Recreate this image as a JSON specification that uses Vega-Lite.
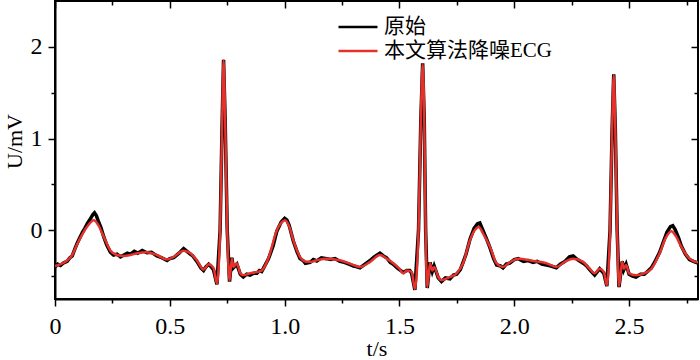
{
  "$schema": "https://vega.github.io/schema/vega-lite/v6.json",
  "width": 643,
  "height": 298,
  "autosize": {"type": "none"},
  "padding": {"left": 55, "top": 1, "right": 2, "bottom": 61},
  "background": "white",
  "config": {
    "font": "Liberation Serif",
    "view": {"stroke": "#000", "strokeWidth": 2},
    "axis": {
      "grid": false,
      "domainColor": "#000",
      "domainWidth": 2,
      "tickColor": "#000",
      "tickWidth": 1.5,
      "labelColor": "#000",
      "labelFont": "Liberation Serif",
      "labelFontSize": 24,
      "titleFont": "Liberation Serif",
      "titleFontSize": 22,
      "titleFontWeight": "normal",
      "titleColor": "#000"
    },
    "legend": {
      "labelFont": "Liberation Serif, 'Noto Sans CJK SC'",
      "labelFontSize": 21,
      "labelColor": "#000",
      "labelLimit": 0,
      "symbolType": "M-2,0H2",
      "symbolSize": 380,
      "symbolStrokeWidth": 2.5,
      "labelOffset": 15,
      "rowPadding": 3,
      "padding": 0
    }
  },
  "datasets": {
    "orig": [
      {"t":0.000,"v":-0.40},{"t":0.012,"v":-0.37},{"t":0.024,"v":-0.385},{"t":0.038,"v":-0.355},{"t":0.053,"v":-0.34},{"t":0.065,"v":-0.30},{"t":0.075,"v":-0.28},{"t":0.087,"v":-0.20},{"t":0.097,"v":-0.14},{"t":0.11,"v":-0.07},{"t":0.12,"v":-0.02},{"t":0.13,"v":0.02},{"t":0.14,"v":0.07},{"t":0.155,"v":0.13},{"t":0.165,"v":0.17},{"t":0.172,"v":0.19},{"t":0.18,"v":0.16},{"t":0.19,"v":0.09},{"t":0.20,"v":0.03},{"t":0.212,"v":-0.07},{"t":0.225,"v":-0.16},{"t":0.241,"v":-0.24},{"t":0.255,"v":-0.27},{"t":0.27,"v":-0.26},{"t":0.285,"v":-0.29},{"t":0.30,"v":-0.27},{"t":0.315,"v":-0.25},{"t":0.328,"v":-0.26},{"t":0.345,"v":-0.23},{"t":0.36,"v":-0.25},{"t":0.38,"v":-0.22},{"t":0.40,"v":-0.245},{"t":0.42,"v":-0.24},{"t":0.444,"v":-0.28},{"t":0.465,"v":-0.30},{"t":0.488,"v":-0.33},{"t":0.50,"v":-0.31},{"t":0.517,"v":-0.30},{"t":0.54,"v":-0.25},{"t":0.56,"v":-0.20},{"t":0.575,"v":-0.23},{"t":0.589,"v":-0.26},{"t":0.60,"v":-0.28},{"t":0.618,"v":-0.34},{"t":0.635,"v":-0.41},{"t":0.647,"v":-0.44},{"t":0.657,"v":-0.40},{"t":0.669,"v":-0.37},{"t":0.68,"v":-0.40},{"t":0.69,"v":-0.43},{"t":0.705,"v":-0.59},{"t":0.719,"v":0.0},{"t":0.728,"v":1.2},{"t":0.734,"v":1.86},{"t":0.741,"v":1.2},{"t":0.750,"v":0.0},{"t":0.760,"v":-0.56},{"t":0.770,"v":-0.30},{"t":0.777,"v":-0.41},{"t":0.792,"v":-0.37},{"t":0.807,"v":-0.48},{"t":0.82,"v":-0.51},{"t":0.835,"v":-0.48},{"t":0.85,"v":-0.49},{"t":0.865,"v":-0.47},{"t":0.879,"v":-0.47},{"t":0.89,"v":-0.44},{"t":0.90,"v":-0.45},{"t":0.915,"v":-0.38},{"t":0.93,"v":-0.31},{"t":0.95,"v":-0.17},{"t":0.966,"v":-0.01},{"t":0.985,"v":0.09},{"t":1.000,"v":0.13},{"t":1.01,"v":0.11},{"t":1.02,"v":0.05},{"t":1.038,"v":-0.12},{"t":1.055,"v":-0.24},{"t":1.067,"v":-0.31},{"t":1.08,"v":-0.33},{"t":1.09,"v":-0.36},{"t":1.111,"v":-0.35},{"t":1.125,"v":-0.32},{"t":1.14,"v":-0.335},{"t":1.16,"v":-0.30},{"t":1.183,"v":-0.31},{"t":1.20,"v":-0.32},{"t":1.22,"v":-0.31},{"t":1.241,"v":-0.34},{"t":1.26,"v":-0.35},{"t":1.28,"v":-0.37},{"t":1.30,"v":-0.39},{"t":1.315,"v":-0.40},{"t":1.328,"v":-0.41},{"t":1.35,"v":-0.37},{"t":1.372,"v":-0.33},{"t":1.39,"v":-0.29},{"t":1.415,"v":-0.25},{"t":1.43,"v":-0.28},{"t":1.444,"v":-0.30},{"t":1.46,"v":-0.35},{"t":1.473,"v":-0.37},{"t":1.49,"v":-0.41},{"t":1.50,"v":-0.43},{"t":1.517,"v":-0.46},{"t":1.531,"v":-0.44},{"t":1.545,"v":-0.44},{"t":1.553,"v":-0.47},{"t":1.567,"v":-0.65},{"t":1.583,"v":0.0},{"t":1.593,"v":1.2},{"t":1.601,"v":1.82},{"t":1.608,"v":1.2},{"t":1.614,"v":0.0},{"t":1.621,"v":-0.63},{"t":1.633,"v":-0.35},{"t":1.643,"v":-0.45},{"t":1.651,"v":-0.39},{"t":1.669,"v":-0.52},{"t":1.683,"v":-0.56},{"t":1.70,"v":-0.52},{"t":1.72,"v":-0.53},{"t":1.735,"v":-0.49},{"t":1.749,"v":-0.48},{"t":1.765,"v":-0.43},{"t":1.777,"v":-0.35},{"t":1.79,"v":-0.26},{"t":1.807,"v":-0.10},{"t":1.825,"v":0.02},{"t":1.84,"v":0.07},{"t":1.85,"v":0.08},{"t":1.865,"v":-0.01},{"t":1.88,"v":-0.10},{"t":1.894,"v":-0.19},{"t":1.91,"v":-0.31},{"t":1.923,"v":-0.38},{"t":1.94,"v":-0.39},{"t":1.951,"v":-0.41},{"t":1.965,"v":-0.37},{"t":1.98,"v":-0.36},{"t":2.0,"v":-0.32},{"t":2.017,"v":-0.31},{"t":2.04,"v":-0.34},{"t":2.06,"v":-0.33},{"t":2.082,"v":-0.35},{"t":2.10,"v":-0.34},{"t":2.12,"v":-0.37},{"t":2.14,"v":-0.38},{"t":2.16,"v":-0.39},{"t":2.183,"v":-0.41},{"t":2.20,"v":-0.37},{"t":2.22,"v":-0.34},{"t":2.24,"v":-0.29},{"t":2.256,"v":-0.28},{"t":2.275,"v":-0.32},{"t":2.30,"v":-0.36},{"t":2.315,"v":-0.39},{"t":2.328,"v":-0.43},{"t":2.35,"v":-0.49},{"t":2.372,"v":-0.42},{"t":2.39,"v":-0.47},{"t":2.403,"v":-0.61},{"t":2.417,"v":0.0},{"t":2.426,"v":1.1},{"t":2.433,"v":1.70},{"t":2.440,"v":1.1},{"t":2.448,"v":0.0},{"t":2.456,"v":-0.62},{"t":2.47,"v":-0.34},{"t":2.477,"v":-0.43},{"t":2.487,"v":-0.37},{"t":2.50,"v":-0.48},{"t":2.515,"v":-0.50},{"t":2.53,"v":-0.51},{"t":2.55,"v":-0.48},{"t":2.566,"v":-0.48},{"t":2.58,"v":-0.45},{"t":2.597,"v":-0.41},{"t":2.615,"v":-0.33},{"t":2.633,"v":-0.24},{"t":2.65,"v":-0.12},{"t":2.665,"v":-0.02},{"t":2.68,"v":0.04},{"t":2.69,"v":0.05},{"t":2.70,"v":0.01},{"t":2.715,"v":-0.08},{"t":2.727,"v":-0.17},{"t":2.745,"v":-0.26},{"t":2.763,"v":-0.32},{"t":2.78,"v":-0.34},{"t":2.80,"v":-0.36}
    ],
    "denoised": [
      {"t":0.000,"v":-0.39},{"t":0.024,"v":-0.37},{"t":0.053,"v":-0.33},{"t":0.075,"v":-0.27},{"t":0.097,"v":-0.15},{"t":0.12,"v":-0.04},{"t":0.14,"v":0.04},{"t":0.169,"v":0.11},{"t":0.19,"v":0.05},{"t":0.212,"v":-0.07},{"t":0.241,"v":-0.22},{"t":0.27,"v":-0.27},{"t":0.30,"v":-0.28},{"t":0.328,"v":-0.27},{"t":0.36,"v":-0.25},{"t":0.40,"v":-0.24},{"t":0.444,"v":-0.27},{"t":0.488,"v":-0.32},{"t":0.517,"v":-0.29},{"t":0.56,"v":-0.225},{"t":0.589,"v":-0.25},{"t":0.618,"v":-0.33},{"t":0.647,"v":-0.43},{"t":0.669,"v":-0.37},{"t":0.69,"v":-0.41},{"t":0.705,"v":-0.58},{"t":0.719,"v":0.0},{"t":0.728,"v":1.2},{"t":0.734,"v":1.85},{"t":0.741,"v":1.2},{"t":0.750,"v":0.0},{"t":0.760,"v":-0.55},{"t":0.770,"v":-0.31},{"t":0.777,"v":-0.40},{"t":0.792,"v":-0.36},{"t":0.807,"v":-0.47},{"t":0.821,"v":-0.49},{"t":0.85,"v":-0.47},{"t":0.879,"v":-0.455},{"t":0.90,"v":-0.44},{"t":0.93,"v":-0.30},{"t":0.966,"v":0.0},{"t":0.985,"v":0.08},{"t":1.002,"v":0.11},{"t":1.02,"v":0.04},{"t":1.038,"v":-0.11},{"t":1.067,"v":-0.29},{"t":1.09,"v":-0.34},{"t":1.111,"v":-0.345},{"t":1.14,"v":-0.327},{"t":1.183,"v":-0.31},{"t":1.241,"v":-0.327},{"t":1.30,"v":-0.38},{"t":1.328,"v":-0.40},{"t":1.372,"v":-0.345},{"t":1.415,"v":-0.27},{"t":1.444,"v":-0.31},{"t":1.473,"v":-0.36},{"t":1.50,"v":-0.42},{"t":1.517,"v":-0.47},{"t":1.531,"v":-0.44},{"t":1.553,"v":-0.455},{"t":1.567,"v":-0.64},{"t":1.583,"v":0.0},{"t":1.593,"v":1.2},{"t":1.601,"v":1.81},{"t":1.608,"v":1.2},{"t":1.614,"v":0.0},{"t":1.621,"v":-0.62},{"t":1.633,"v":-0.36},{"t":1.643,"v":-0.44},{"t":1.651,"v":-0.40},{"t":1.669,"v":-0.51},{"t":1.683,"v":-0.545},{"t":1.72,"v":-0.51},{"t":1.749,"v":-0.47},{"t":1.777,"v":-0.36},{"t":1.807,"v":-0.11},{"t":1.825,"v":-0.01},{"t":1.845,"v":0.036},{"t":1.865,"v":-0.04},{"t":1.894,"v":-0.18},{"t":1.923,"v":-0.36},{"t":1.951,"v":-0.40},{"t":1.98,"v":-0.35},{"t":2.017,"v":-0.31},{"t":2.082,"v":-0.335},{"t":2.14,"v":-0.36},{"t":2.183,"v":-0.40},{"t":2.22,"v":-0.345},{"t":2.256,"v":-0.31},{"t":2.30,"v":-0.345},{"t":2.328,"v":-0.42},{"t":2.35,"v":-0.47},{"t":2.372,"v":-0.42},{"t":2.39,"v":-0.455},{"t":2.403,"v":-0.60},{"t":2.417,"v":0.0},{"t":2.426,"v":1.1},{"t":2.433,"v":1.69},{"t":2.440,"v":1.1},{"t":2.448,"v":0.0},{"t":2.456,"v":-0.61},{"t":2.47,"v":-0.345},{"t":2.477,"v":-0.42},{"t":2.487,"v":-0.38},{"t":2.50,"v":-0.47},{"t":2.53,"v":-0.49},{"t":2.566,"v":-0.47},{"t":2.597,"v":-0.42},{"t":2.633,"v":-0.25},{"t":2.66,"v":-0.08},{"t":2.684,"v":-0.01},{"t":2.705,"v":-0.07},{"t":2.727,"v":-0.18},{"t":2.763,"v":-0.31},{"t":2.79,"v":-0.345},{"t":2.80,"v":-0.35}
    ]
  },
  "layer": [
    {
      "data": {"name": "orig"},
      "mark": {"type": "line", "strokeWidth": 3.5, "interpolate": "linear", "clip": true},
      "encoding": {
        "x": {
          "field": "t", "type": "quantitative",
          "scale": {"domain": [0, 2.8], "nice": false, "zero": false},
          "axis": {
            "orient": "bottom",
            "values": [0, 0.25, 0.5, 0.75, 1, 1.25, 1.5, 1.75, 2, 2.25, 2.5, 2.75],
            "labelExpr": "datum.value === 0 ? '0' : (abs(datum.value * 2 - round(datum.value * 2)) < 0.001 ? format(datum.value, '.1f') : '')",
            "tickSize": {"condition": {"test": "abs(datum.value * 2 - round(datum.value * 2)) < 0.001", "value": 7}, "value": 4},
            "labelPadding": 8,
            "labelFlush": false,
            "title": "t/s",
            "titleY": 56,
            "titleBaseline": "alphabetic"
          }
        },
        "y": {
          "field": "v", "type": "quantitative",
          "scale": {"domain": [-0.75, 2.5], "nice": false, "zero": false},
          "axis": {
            "orient": "left",
            "values": [-0.5, 0, 0.5, 1, 1.5, 2],
            "labelExpr": "datum.value % 1 === 0 ? format(datum.value, 'd') : ''",
            "tickSize": {"condition": {"test": "datum.value % 1 === 0", "value": 7}, "value": 4},
            "labelPadding": 6,
            "labelFlush": false,
            "title": "U/mV",
            "titleX": -41,
            "titleY": 140,
            "titleBaseline": "middle",
            "titleAngle": -90
          }
        },
        "color": {
          "datum": "原始",
          "scale": {"domain": ["原始", "本文算法降噪ECG"], "range": ["#000000", "#e5312b"]},
          "legend": {"orient": "none", "legendX": 292, "legendY": 15, "title": null}
        }
      }
    },
    {
      "data": {"name": "denoised"},
      "mark": {"type": "line", "strokeWidth": 2.5, "interpolate": "monotone", "clip": true},
      "encoding": {
        "x": {
          "field": "t", "type": "quantitative",
          "axis": {
            "orient": "top",
            "values": [0, 0.25, 0.5, 0.75, 1, 1.25, 1.5, 1.75, 2, 2.25, 2.5, 2.75],
            "labels": false,
            "domain": false,
            "tickSize": {"condition": {"test": "abs(datum.value * 2 - round(datum.value * 2)) < 0.001", "value": -7}, "value": -4},
            "title": null
          }
        },
        "y": {
          "field": "v", "type": "quantitative",
          "axis": {
            "orient": "right",
            "values": [-0.5, 0, 0.5, 1, 1.5, 2],
            "labels": false,
            "domain": false,
            "tickSize": {"condition": {"test": "datum.value % 1 === 0", "value": -7}, "value": -4},
            "title": null
          }
        },
        "color": {"datum": "本文算法降噪ECG"}
      }
    }
  ],
  "resolve": {"axis": {"x": "independent", "y": "independent"}}
}
